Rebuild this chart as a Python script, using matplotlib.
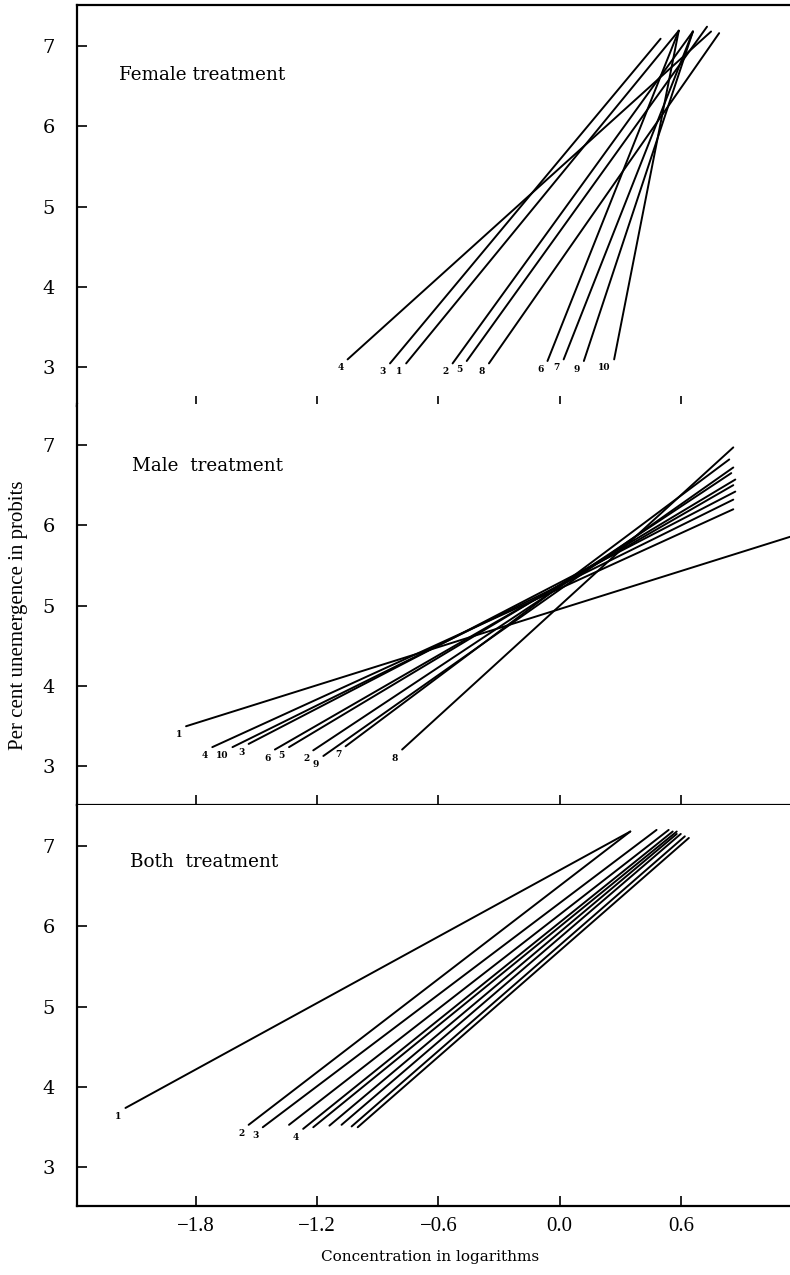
import numpy as np
import matplotlib.pyplot as plt

# probit regression lines, start (x0, y0) -> end (x1, y1), log concentration vs probit
fem_ids = ["4", "3", "1", "2", "5", "8", "6", "7", "9", "10"]
fem_x0  = [-1.05, -0.84, -0.76, -0.53, -0.46, -0.35, -0.06, 0.02, 0.12, 0.27]
fem_y0  = [3.10, 3.05, 3.05, 3.05, 3.08, 3.05, 3.08, 3.10, 3.08, 3.10]
fem_x1  = [0.75, 0.50, 0.59, 0.66, 0.73, 0.79, 0.59, 0.66, 0.66, 0.59]
fem_y1  = [7.18, 7.09, 7.19, 7.18, 7.24, 7.16, 7.19, 7.18, 7.18, 7.19]

male_ids = ["1", "4", "10", "3", "6", "5", "2", "9", "7", "8"]
male_x0  = [-1.85, -1.72, -1.62, -1.54, -1.41, -1.34, -1.22, -1.17, -1.06, -0.78]
male_y0  = [3.50, 3.24, 3.24, 3.28, 3.21, 3.24, 3.20, 3.13, 3.25, 3.21]
male_x1  = [1.17, 0.86, 0.86, 0.87, 0.86, 0.87, 0.85, 0.86, 0.84, 0.86]
male_y1  = [5.88, 6.20, 6.32, 6.42, 6.50, 6.57, 6.65, 6.72, 6.82, 6.97]

both_ids = ["1", "2", "3", "", "4", "", "", "", "", ""]
both_x0  = [-2.15, -1.54, -1.47, -1.34, -1.27, -1.22, -1.14, -1.08, -1.03, -1.00]
both_y0  = [3.74, 3.53, 3.50, 3.53, 3.48, 3.50, 3.52, 3.53, 3.51, 3.50]
both_x1  = [0.35, 0.35, 0.48, 0.54, 0.56, 0.58, 0.58, 0.60, 0.62, 0.64]
both_y1  = [7.18, 7.18, 7.20, 7.20, 7.18, 7.18, 7.15, 7.15, 7.12, 7.10]

panels = [
    ("Female treatment", (-2.18, 6.64), fem_ids, fem_x0, fem_y0, fem_x1, fem_y1),
    ("Male  treatment", (-2.12, 6.74), male_ids, male_x0, male_y0, male_x1, male_y1),
    ("Both  treatment", (-2.13, 6.80), both_ids, both_x0, both_y0, both_x1, both_y1),
]

serif = ["DejaVu Serif"]
narrow = ["Liberation Serif"]
fig = plt.figure(figsize=(7.9, 12.75), dpi=100)

left, width = 77 / 790, 1 - 77 / 790
tops = [5, 404, 805]
h = 401

for k, (title, tpos, ids, x0, y0, x1, y1) in enumerate(panels):
    bottom = 1 - (tops[k] + h) / 1275
    ax = fig.add_axes([left, bottom, width + 0.01, h / 1275])
    for i in range(len(ids)):
        ax.plot([x0[i], x1[i]], [y0[i], y1[i]], color="black", lw=1.4,
                solid_capstyle="round")
        if ids[i]:
            ax.text(x0[i] - 0.02, y0[i] - 0.05, ids[i], fontsize=6.5,
                    fontweight="bold", family=serif, ha="right", va="top")
    ax.set_xlim(-2.39, 1.18)
    ax.set_ylim(2.52, 7.51)
    ax.set_xticks([-1.8, -1.2, -0.6, 0.0, 0.6])
    ax.set_yticks([3, 4, 5, 6, 7])
    ax.tick_params(axis="y", direction="in", length=7, width=1.2, labelsize=14,
                   pad=16)
    ax.tick_params(axis="x", direction="in", length=7, width=1.2, labelsize=15,
                   pad=8)
    ax.spines["right"].set_visible(False)
    ax.spines["top"].set_visible(k == 0)
    for s in ["left", "bottom", "top"]:
        ax.spines[s].set_linewidth(1.6)
    for lab in ax.get_yticklabels():
        lab.set_family(serif)
    if k < 2:
        ax.set_xticklabels([])
    else:
        ax.set_xticklabels(["\u22121.8", "\u22121.2", "\u22120.6", "0.0", "0.6"],
                           family=narrow)
    ax.text(tpos[0], tpos[1], title, family=serif, fontsize=13.2, va="center")

fig.text(430 / 790, 1 - 1257 / 1275, "Concentration in logarithms",
         family=serif, fontsize=11, ha="center", va="center")
fig.text(0.024, 1 - 615 / 1275, "Per cent unemergence in probits", rotation=90,
         family=narrow, fontsize=15, ha="center", va="center")

fig.savefig("out.png", dpi=100)
